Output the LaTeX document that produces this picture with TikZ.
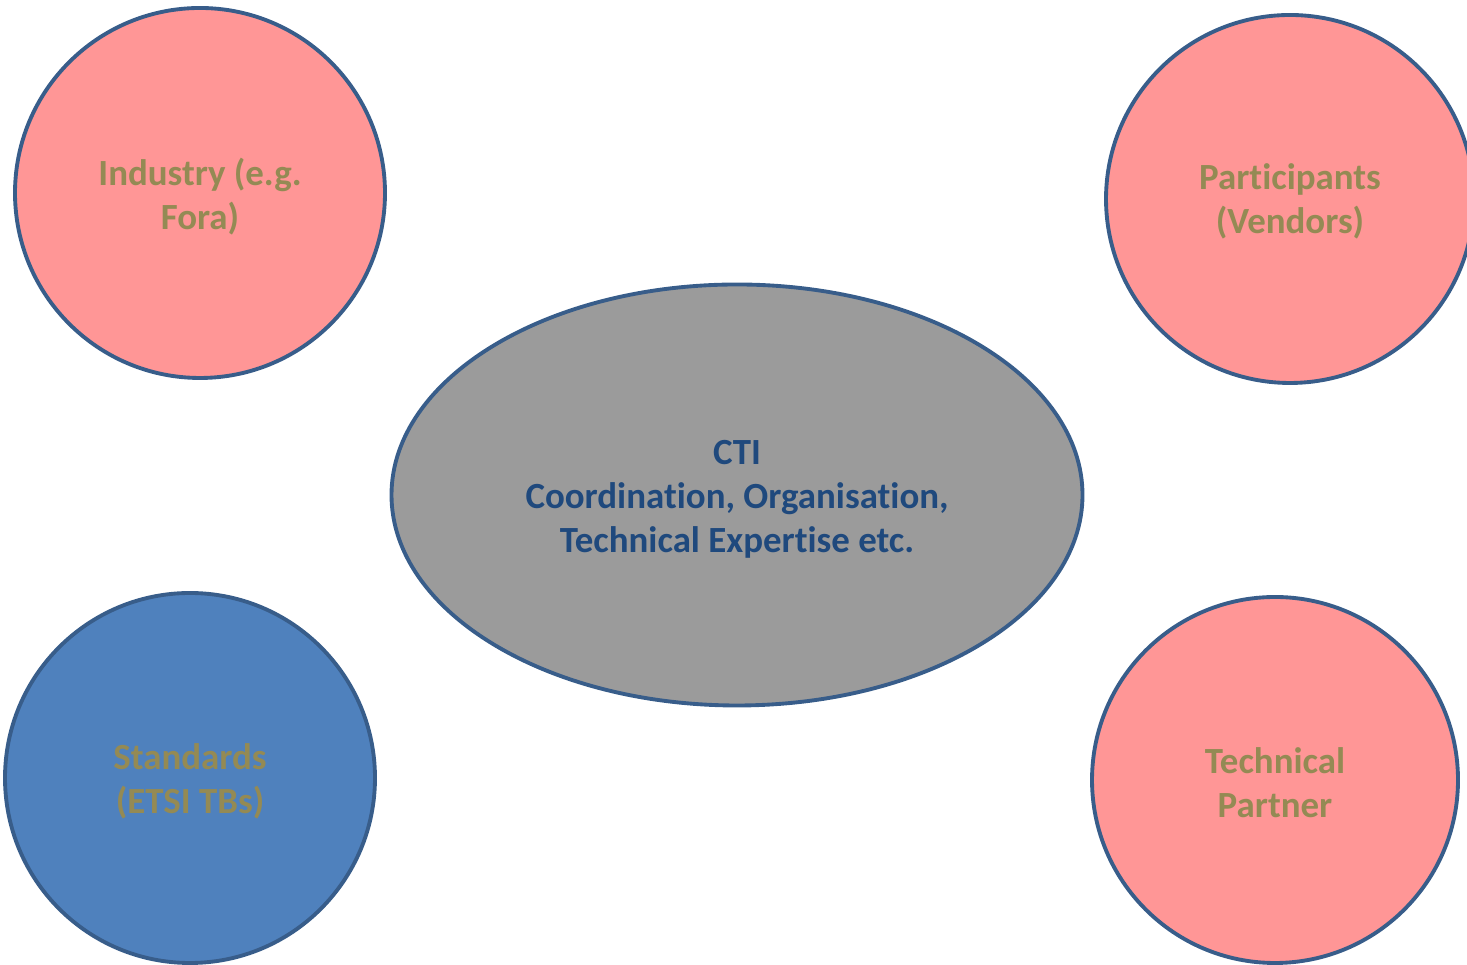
\documentclass[tikz,border=0pt]{standalone}
\usepackage{fontspec}
\setmainfont[Ligatures=NoCommon]{Carlito}
\usepackage{tikz}
\usetikzlibrary{shapes.geometric}
\definecolor{rimblue}{RGB}{56,93,138}
\definecolor{pinkfill}{RGB}{255,150,150}
\definecolor{bluefill}{RGB}{79,129,189}
\definecolor{greyfill}{RGB}{155,155,155}
\definecolor{olivetext}{RGB}{148,138,84}
\definecolor{navytext}{RGB}{31,73,125}

\begin{document}
\begin{tikzpicture}[
    party/.style={circle, draw=rimblue, line width=1.1pt, fill=pinkfill},
    hub/.style={ellipse, draw=rimblue, line width=1.1pt, fill=greyfill, inner sep=0pt},
    words/.style={text=olivetext, align=center, font=\bfseries\fontsize{10.5}{12.5}\selectfont}
]
    \useasboundingbox (0,0) rectangle (14.67,9.65);

    % the four parties round the hub
    \node[party, minimum size=3.70cm] (industry) at (2.00,7.72) {};
    \node[party, minimum size=3.68cm] (participants) at (12.90,7.66) {};
    \node[party, minimum size=3.70cm, fill=bluefill] (standards) at (1.90,1.87) {};
    \node[party, minimum size=3.66cm] (partner) at (12.75,1.85) {};

    \node[hub, minimum width=6.91cm, minimum height=4.21cm] (cti) at (7.37,4.70) {};

    % labels
    \node[words] (industry-txt) at ([yshift=-0.04cm]industry) {Industry (e.g.\\Fora)};
    \node[words] (participants-txt) at ([yshift=-0.02cm]participants) {Participants\\(Vendors)};
    \node[words] (standards-txt) at ([yshift=-0.03cm]standards) {Standards\\(ETSI TBs)};
    \node[words] (partner-txt) at ([yshift=-0.03cm]partner) {Technical\\Partner};
    \node[words, text=navytext] (cti-txt) at ([yshift=-0.04cm]cti) {CTI\\Coordination, Organisation,\\Technical Expertise etc.};
\end{tikzpicture}
\end{document}
